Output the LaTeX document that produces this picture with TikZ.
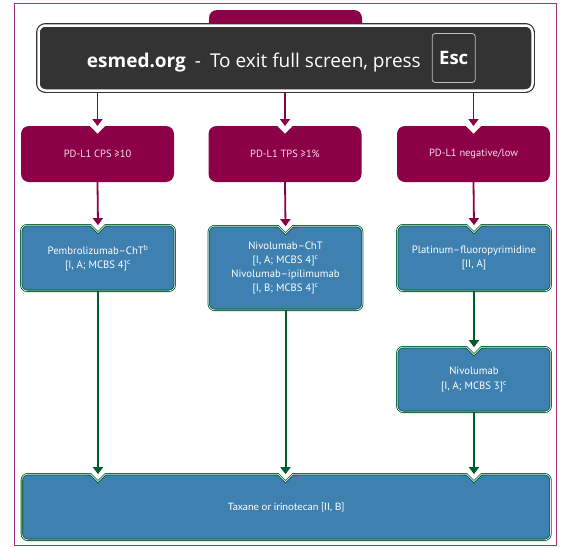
\documentclass[tikz,border=0pt]{standalone}
\usepackage{fontspec}
\setmainfont{PT Sans}
\newfontfamily\ovlfont{Open Sans}
\newfontfamily\latofont{Lato}
\usepackage{tikz}
\usetikzlibrary{arrows.meta}

\definecolor{pdmaroon}{RGB}{140,0,72}
\definecolor{txblue}{RGB}{62,128,176}
\definecolor{txgreen}{RGB}{0,94,46}
\definecolor{framepink}{RGB}{160,50,120}
\definecolor{ovlgrey}{RGB}{51,51,51}

\tikzset{
    pdbox/.style={fill=pdmaroon, text=white!88!pdmaroon, rounded corners=8pt,
        minimum width=153pt, minimum height=56pt, inner sep=0pt, outer sep=0pt,
        align=center, font=\fontsize{10.5}{12}\selectfont},
    txline/.style={draw=txgreen, double=white!85!txblue, double distance=0.7pt,
        line width=0.8pt},
    txbox/.style={txline, fill=txblue, text=white, rounded corners=6pt,
        minimum width=153.5pt, minimum height=65.7pt, inner sep=0pt, outer sep=0pt,
        align=center, font=\fontsize{10.7}{14.5}\selectfont},
    pdarrow/.style={draw=pdmaroon, line width=1.8pt, -{Triangle[width=10pt,length=7pt]}},
    txarrow/.style={draw=txgreen, line width=2pt, -{Triangle[width=10pt,length=7pt]}}
}

\newcommand{\pdnotch}[1]{%
    \fill[white] (#1) ++(-7.5,-1) -- ++(0,1) -- ++(7.5,7.5) -- ++(7.5,-7.5) -- ++(0,-1) -- cycle;}
\newcommand{\txnotch}[1]{%
    \fill[white] (#1) ++(-7.5,-1.6) -- ++(0,1.6) -- ++(7.5,7.5) -- ++(7.5,-7.5) -- ++(0,-1.6) -- cycle;
    \draw[txline] (#1) ++(-12,0) -- ++(4.5,0) -- ++(7.5,7.5) -- ++(7.5,-7.5) -- ++(4.5,0);}

\begin{document}
\begin{tikzpicture}[x=1pt, y=-1pt]
    \useasboundingbox (0,0) rectangle (565,547);
    \draw[framepink, line width=1pt] (14.5,3.5) rectangle (556,545.5);

    \node[pdbox, minimum height=40pt, anchor=north] (top) at (285.5,10) {};
    \node[draw=ovlgrey, double=white, double distance=2.5pt, line width=1.2pt,
        fill=ovlgrey, rounded corners=7pt, minimum width=494pt, minimum height=65pt,
        outer sep=0pt] (ovl) at (285.5,58) {};
    \node[anchor=base east, inner sep=0pt, text=white, font=\ovlfont\fontsize{19}{20}\selectfont]
        (msg) at (421,67) {\textbf{esmed.org}\hspace{9pt}-\hspace{9pt}To exit full screen, press};
    \node[draw=white!75!black, line width=0.8pt, rounded corners=3pt, minimum width=43pt,
        minimum height=49pt, text=white, font=\ovlfont\bfseries\fontsize{18.5}{20}\selectfont]
        (esc) at (453.7,58) {Esc};

    \node[pdbox] (pd1) at (97.5,154) {PD-L1 CPS ≥10};
    \node[pdbox] (pd2) at (285,154) {PD-L1 TPS ≥1\%};
    \node[pdbox] (pd3) at (473.5,154) {PD-L1 negative/low};

    \node[txbox] (tx1) at (98,258) {Pembrolizumab–ChT\textsuperscript{b}\\{}[I, A; MCBS 4]\textsuperscript{c}};
    \node[txbox, minimum height=83.7pt, font=\fontsize{10.7}{14}\selectfont] (tx2) at (285.5,268) {Nivolumab–ChT\\{}[I, A; MCBS 4]\textsuperscript{c}\\ Nivolumab–ipilimumab\\{}[I, B; MCBS 4]\textsuperscript{c}};
    \node[txbox] (tx3) at (474,258) {Platinum–fluoropyrimidine\\{}[II, A]};
    \node[txbox, minimum height=64.7pt] (tx4) at (474,379.5) {Nivolumab\\{}[I, A; MCBS 3]\textsuperscript{c}};
    \node[txbox, minimum width=528.7pt, font=\latofont\fontsize{10.2}{12}\selectfont] (last) at (286.2,507) {Taxane or irinotecan [II, B]};

    \pdnotch{pd1.north}
    \pdnotch{pd2.north}
    \pdnotch{pd3.north}
    \txnotch{tx1.north}
    \txnotch{tx2.north}
    \txnotch{tx3.north}
    \txnotch{tx4.north}
    \txnotch{last.north -| tx1.south}
    \txnotch{last.north -| tx2.south}
    \txnotch{last.north -| tx4.south}

    \draw[pdarrow, shorten <=2.5pt] (ovl.south -| pd1.north) -- (pd1.north);
    \draw[pdarrow, shorten <=2.5pt] (ovl.south -| pd2.north) -- (pd2.north);
    \draw[pdarrow, shorten <=2.5pt] (ovl.south -| pd3.north) -- (pd3.north);
    \draw[pdarrow] (pd1.south) -- (tx1.north);
    \draw[pdarrow] (pd2.south) -- (tx2.north);
    \draw[pdarrow] (pd3.south) -- (tx3.north);
    \draw[txarrow] (tx1.south) -- (last.north -| tx1.south);
    \draw[txarrow] (tx2.south) -- (last.north -| tx2.south);
    \draw[txarrow] (tx3.south) -- (tx4.north);
    \draw[txarrow] (tx4.south) -- (last.north -| tx4.south);
\end{tikzpicture}
\end{document}
